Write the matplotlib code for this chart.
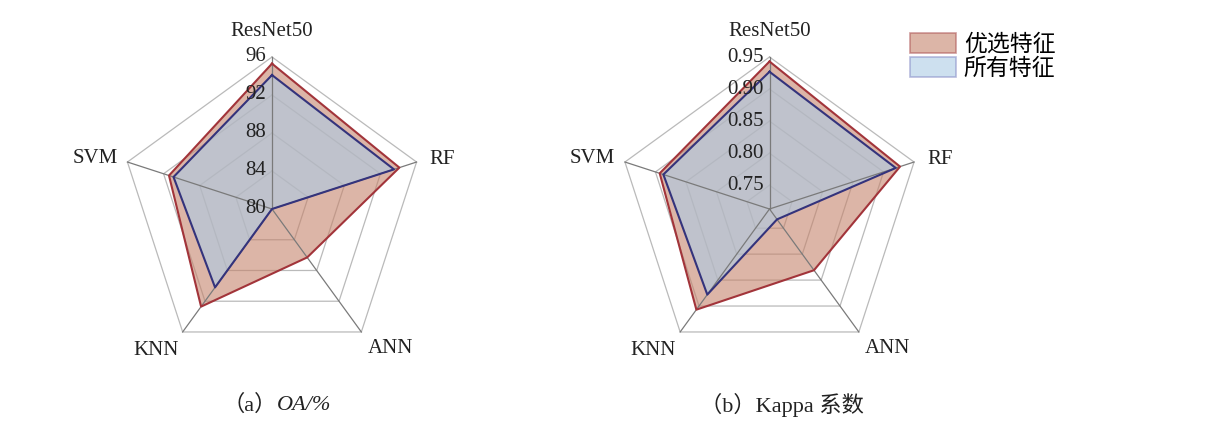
import numpy as np
import matplotlib
matplotlib.use("Agg")
import matplotlib.pyplot as plt
from matplotlib.patches import Patch

# data
models = ["ResNet50", "RF", "ANN", "KNN", "SVM"]
oa_best = [95.3, 94.1, 86.3, 92.7, 91.4]
oa_all = [94.1, 93.5, 80.0, 90.2, 90.9]
kappa_best = [0.943, 0.927, 0.831, 0.907, 0.893]
kappa_all = [0.927, 0.920, 0.733, 0.878, 0.887]
oa_ticks = [80, 84, 88, 92, 96]
kappa_ticks = [0.75, 0.80, 0.85, 0.90, 0.95]
legend_labels = ["优选特征", "所有特征"]

SERIF = ["Liberation Serif", "Noto Sans CJK SC"]
CJK = ["Liberation Serif", "Noto Sans CJK SC"]

red_face = "#c5846c"
red_edge = "#a2343a"
blue_face = "#accce5"
blue_edge = "#34337c"

# label offsets (pixels) from each outer vertex
label_pos = {
    "ResNet50": ((0, 25), "center"),
    "RF": ((13, 3), "left"),
    "ANN": ((29, -17), "center"),
    "KNN": ((-27, -19), "center"),
    "SVM": ((-10, 4), "right"),
}


def radar(ax, best, allf, ticks, rmin, tick_fmt, show_center):
    n = len(models)
    ang = np.arange(n) * 2 * np.pi / n
    ang_c = np.append(ang, ang[0])
    rmax = ticks[-1]

    ax.set_theta_offset(np.pi / 2)
    ax.set_theta_direction(-1)
    ax.set_ylim(rmin, rmax)
    ax.grid(False)
    ax.spines["polar"].set_visible(False)
    ax.set_xticks([])
    ax.set_yticks([])
    ax.patch.set_alpha(0)

    # pentagon rings under the fills, spokes over them
    for t in ticks:
        if t <= rmin:
            continue
        ax.plot(ang_c, [t] * (n + 1), color="#bababa", lw=0.9, zorder=0.5, clip_on=False)
    for a in ang:
        ax.plot([a, a], [rmin, rmax], color="#7a7a7a", lw=0.9, zorder=2.2, clip_on=False)

    ax.fill(ang_c, np.append(best, best[0]), color=red_face, alpha=0.6, lw=0, zorder=1)
    ax.fill(ang_c, np.append(allf, allf[0]), color=blue_face, alpha=0.6, lw=0, zorder=1.5)

    ax.plot(ang_c, np.append(best, best[0]), color=red_edge, lw=1.5, zorder=3, clip_on=False)
    ax.plot(ang_c, np.append(allf, allf[0]), color=blue_edge, lw=1.5, zorder=3.2, clip_on=False)

    for t in ticks:
        if t <= rmin and not show_center:
            continue
        ax.annotate(tick_fmt.format(t), xy=(0, max(t, rmin)), xytext=(-6, 0),
                    textcoords="offset pixels", ha="right", va="center",
                    fontsize=15, family=SERIF, color="#222222", zorder=4,
                    annotation_clip=False)

    for a, m in zip(ang, models):
        off, ha = label_pos[m]
        ax.annotate(m, xy=(a, rmax), xytext=off, textcoords="offset pixels",
                    ha=ha, va="center", fontsize=15, family=SERIF,
                    color="#222222", annotation_clip=False)


fig = plt.figure(figsize=(12.18, 4.25), dpi=100)

ax1 = fig.add_axes([120 / 1218, 64 / 425, 304 / 1218, 304 / 425], projection="polar")
radar(ax1, oa_best, oa_all, oa_ticks, 80, "{:d}", True)

ax2 = fig.add_axes([617.5 / 1218, 64 / 425, 304 / 1218, 304 / 425], projection="polar")
radar(ax2, kappa_best, kappa_all, kappa_ticks, 0.713, "{:.2f}", False)

handles = [
    Patch(facecolor=red_face, alpha=0.6, edgecolor="#b05a5a", lw=1.2),
    Patch(facecolor=blue_face, alpha=0.6, edgecolor="#8a90c8", lw=1.2),
]
leg = fig.legend(handles, legend_labels, loc="upper left",
                 bbox_to_anchor=(910 / 1218, 1 - 33 / 425), frameon=False,
                 prop={"family": CJK, "size": 16.5}, handlelength=2.0,
                 handleheight=0.95, handletextpad=0.35, labelspacing=0.05,
                 borderpad=0, borderaxespad=0)
for h in leg.legend_handles:
    h.set_edgecolor(h.get_edgecolor()[:3] + (1.0,))

# captions
t1 = fig.text(222 / 1218, 1 - 405 / 425, "（a）", ha="left", va="center",
              fontsize=16, family=CJK, color="#222222")
ax1.annotate("OA/%", xy=(1, 0.5), xycoords=t1, xytext=(1, 0),
             textcoords="offset pixels", ha="left", va="center",
             fontsize=16, family=SERIF, style="italic", color="#222222",
             annotation_clip=False)
fig.text(782 / 1218, 1 - 405 / 425, "（b）Kappa 系数", ha="center", va="center",
         fontsize=16, family=CJK, color="#222222")

fig.savefig("out.png", dpi=100)
